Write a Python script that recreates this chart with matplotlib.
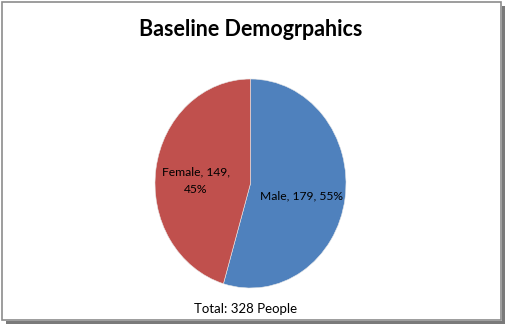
import matplotlib.pyplot as plt
from matplotlib.patches import Rectangle

labels = ['Male', 'Female']
counts = [179, 149]
colors = ['#4F81BD', '#C0504D']
title = 'Baseline Demogrpahics'
total_text = 'Total: 328 People'

W, H = 507, 329
fig = plt.figure(figsize=(W / 100, H / 100), dpi=100)
plt.rcParams['font.family'] = ['Lato', 'DejaVu Sans']

def fx(x):
    return x / W

def fy(y):
    return 1 - y / H

# frame with shadow
fig.add_artist(Rectangle((fx(502), fy(324)), fx(3), 1 - fy(324) - (1 - fy(6)),
                         transform=fig.transFigure, color='#7a7a7a', lw=0))
fig.add_artist(Rectangle((fx(6), fy(324)), fx(499), fy(321) - fy(324),
                         transform=fig.transFigure, color='#7a7a7a', lw=0))
fig.add_artist(Rectangle((fx(1.5), fy(320)), fx(499), fy(1.5) - fy(320),
                         transform=fig.transFigure, fill=False, ec='#8c8c8c', lw=1.2))

fig.text(fx(251), fy(29), title, ha='center', va='center',
         fontsize=15.5, fontweight='bold', color='black')
fig.text(fx(246), fy(309), total_text, ha='center', va='center',
         fontsize=9.5, color='black')

ax = fig.add_axes([fx(155), fy(288), fx(191), fy(79) - fy(288)])
total = sum(counts)
wedges, _ = ax.pie(counts, colors=colors, startangle=90, counterclock=False,
                   wedgeprops=dict(linewidth=0.4, edgecolor='#e8e8e8'))
ax.set_aspect('auto')
ax.set_xlim(-1, 1)
ax.set_ylim(-1, 1)
ax.axis('off')

pcts = [round(c / total * 100) for c in counts]
ax.text(0.53, -0.12, f'{labels[0]}, {counts[0]}, {pcts[0]}%', ha='center', va='center',
        fontsize=8.7, color='black')
ax.text(-0.57, 0.03, f'{labels[1]}, {counts[1]},\n{pcts[1]}%', ha='center', va='center',
        fontsize=8.7, color='black', linespacing=1.75)

fig.savefig('out.png', dpi=100)
